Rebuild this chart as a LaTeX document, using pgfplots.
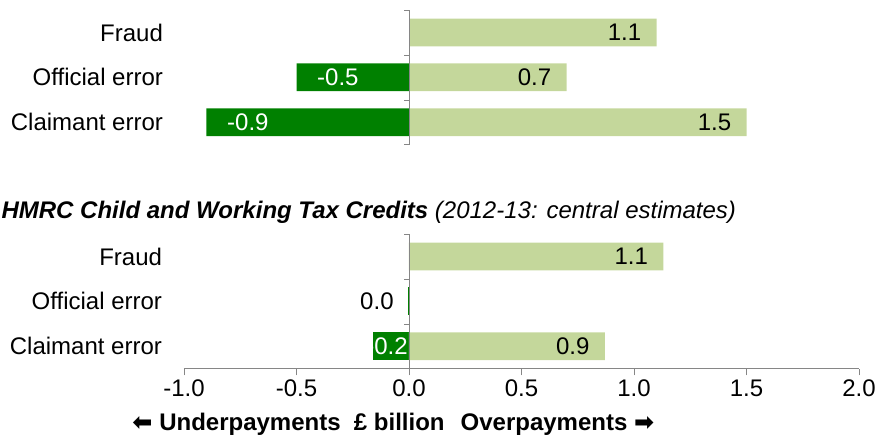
\documentclass[border=0pt]{standalone}
\usepackage{pgfplots}
\pgfplotsset{compat=1.18}
\usepackage{fontspec}
\setmainfont{Liberation Sans}
\newfontfamily\symfont{DejaVu Sans}

\definecolor{dkgreen}{RGB}{0,128,0}
\definecolor{ltgreen}{RGB}{196,215,155}
\definecolor{axgray}{RGB}{134,134,134}

\tikzset{ytk/.style={axgray}}
\pgfplotsset{
  panel/.style={
    scale only axis, width=506.25pt, height=101pt,
    xmin=-1, xmax=2, ymin=-0.5, ymax=2.5,
    xbar, bar width=0.62, bar shift=0pt,
    axis x line*=bottom, axis y line*=left,
    y axis line style={draw=none},
    ytick={0,1,2},
    yticklabels={Claimant error, Official error, Fraud},
    ytick style={draw=none},
    yticklabel style={font=\fontsize{18}{20}\selectfont, xshift=-8pt},
    clip=false,
  },
  pos/.style={fill=ltgreen, draw=none,
    nodes near coords, point meta=explicit symbolic,
    nodes near coords style={anchor=east, xshift=-8pt, text=black,
      font=\fontsize{18}{20}\selectfont}},
  neg/.style={fill=dkgreen, draw=none,
    nodes near coords, point meta=explicit symbolic,
    nodes near coords style={anchor=west, xshift=12pt, text=white,
      font=\fontsize{18}{20}\selectfont}},
}

\begin{document}
\begin{tikzpicture}
\useasboundingbox (0,0) rectangle (657pt,-334.5pt);

% top panel
\begin{axis}[panel, at={(138pt,-7.5pt)}, anchor=north west,
    x axis line style={draw=none}, xtick=\empty]
  \addplot[neg] coordinates {(-0.5,1) [-0.5] (-0.9,0) [-0.9]};
  \addplot[pos] coordinates {(1.1,2) [1.1] (0.7,1) [0.7] (1.5,0) [1.5]};
  \draw[ytk] (axis cs:0,-0.5) -- (axis cs:0,2.5);
  \draw[ytk] (axis cs:0,-0.5) -- ([xshift=-4pt]axis cs:0,-0.5);
  \draw[ytk] (axis cs:0,0.5) -- ([xshift=-4pt]axis cs:0,0.5);
  \draw[ytk] (axis cs:0,1.5) -- ([xshift=-4pt]axis cs:0,1.5);
  \draw[ytk] (axis cs:0,2.5) -- ([xshift=-4pt]axis cs:0,2.5);
\end{axis}

\node[anchor=west, inner sep=0pt, font=\fontsize{18}{20}\selectfont]
  at (1pt,-159pt) {\bfseries\itshape HMRC Child and Working Tax Credits
  \mdseries (2012-13: central estimates)};

% bottom panel
\begin{axis}[panel, at={(138pt,-175.5pt)}, anchor=north west,
    x axis line style={axgray},
    xtick={-1,-0.5,0,0.5,1,1.5,2},
    xticklabels={-1.0,-0.5,0.0,0.5,1.0,1.5,2.0},
    xticklabel style={font=\fontsize{18}{20}\selectfont},
    xtick style={axgray}, xtick align=outside, major tick length=5pt]
  \addplot[neg, nodes near coords style={anchor=east, xshift=17.5pt}]
    coordinates {(-0.16,0) [-0.2]};
  \addplot[neg, nodes near coords style={anchor=east, xshift=-19pt, text=black}]
    coordinates {(-0.006,1) [0.0]};
  \addplot[pos] coordinates {(1.13,2) [1.1] (0.87,0) [0.9]};
  \draw[ytk] (axis cs:0,-0.5) -- (axis cs:0,2.5);
  \draw[ytk] (axis cs:0,0.5) -- ([xshift=-4pt]axis cs:0,0.5);
  \draw[ytk] (axis cs:0,1.5) -- ([xshift=-4pt]axis cs:0,1.5);
  \draw[ytk] (axis cs:0,2.5) -- ([xshift=-4pt]axis cs:0,2.5);
\end{axis}

\node[font=\fontsize{18}{20}\selectfont\bfseries] at (295pt,-318.5pt)
  {{\symfont ⬅} Underpayments\hspace{10pt}£ billion\hspace{12pt}Overpayments {\symfont ➡}};
\end{tikzpicture}
\end{document}
